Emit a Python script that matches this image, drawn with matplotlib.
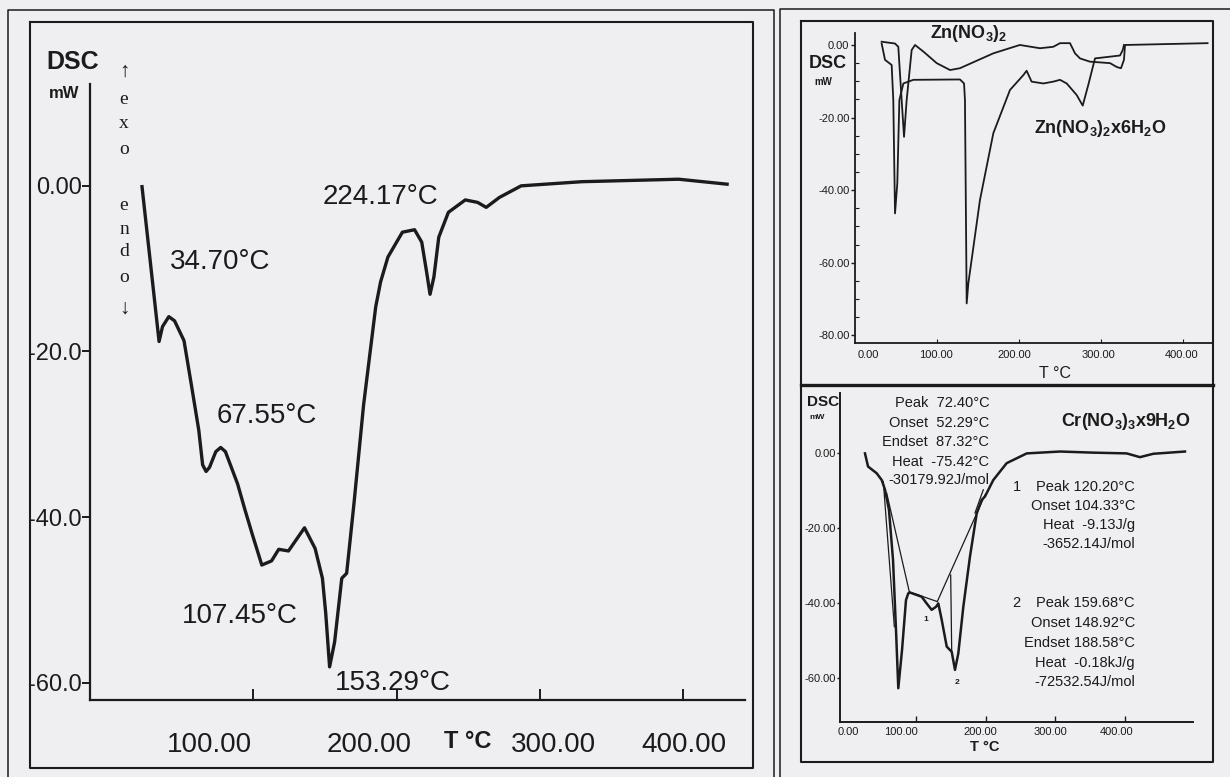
import matplotlib
matplotlib.use("Agg")
import matplotlib.pyplot as plt
from matplotlib.lines import Line2D
from matplotlib.ticker import FixedLocator, MultipleLocator

plt.rcParams['font.family'] = ['Liberation Sans', 'DejaVu Sans']
plt.rcParams['mathtext.default'] = 'regular'

# ---------------- data ----------------
# Left panel: DSC curve (T in degC, DSC in mW)
left_T = [22.3, 28.1, 34.2, 36.6, 41.0, 45.0, 51.6, 56.9, 61.9, 64.6, 67.0, 69.4, 73.8, 77.2,
          80.5, 89.0, 94.1, 99.1, 105.9, 112.7, 117.7, 124.5, 135.7, 143.1, 148.2, 150.5,
          153.2, 156.7, 161.7, 165.1, 170.2, 176.9, 185.4, 188.8, 193.9, 204.0, 212.5, 217.5,
          220.9, 223.3, 226.0, 229.4, 236.1, 247.9, 256.5, 262.5, 271.7, 286.9, 329.2, 396.8, 430.6]
left_V = [-0.1, -9.2, -18.8, -17.0, -15.8, -16.3, -18.7, -24.2, -29.5, -33.7, -34.5, -34.0, -32.1, -31.6,
          -32.1, -36.0, -39.1, -42.0, -45.8, -45.3, -43.9, -44.1, -41.3, -43.8, -47.4, -51.6,
          -58.1, -55.1, -47.4, -46.8, -38.4, -26.5, -14.6, -11.6, -8.6, -5.6, -5.3, -6.8,
          -10.4, -13.1, -11.0, -6.2, -3.2, -1.7, -2.0, -2.6, -1.4, 0.0, 0.5, 0.8, 0.2]
left_peaks = ["34.70°C", "67.55°C", "107.45°C", "153.29°C", "224.17°C"]
left_yticks = [0, -20, -40, -60]
left_yticklabels = ["0.00", "-20.0", "-40.0", "-60.0"]
left_xticks = [100, 200, 300, 400]
left_xticklabels = ["100.00", "200.00", "300.00", "400.00"]

# Top-right panel: Zn(NO3)2 and Zn(NO3)2x6H2O
zn_T = [32.5, 48.8, 52.8, 56.9, 59.8, 63.0, 69.1, 73.2, 83.3, 99.6, 115.9, 128.0, 168.7, 201.0,
        225.6, 241.8, 250.0, 262.2, 268.3, 274.4, 286.6, 311.0, 319.5, 324.4, 328.0, 329.3, 430.0]
zn_V = [0.9, 0.4, -0.5, -15.2, -25.3, -15.2, -1.4, 0.0, -1.8, -5.0, -6.9, -6.4, -2.3, 0.0,
        -0.9, -0.5, 0.5, 0.5, -2.3, -3.7, -4.6, -5.0, -6.1, -6.4, -4.1, 0.0, 0.5]
znh_T = [32.5, 36.6, 44.7, 46.7, 48.8, 51.6, 54.1, 59.0, 71.1, 128.0, 133.0, 134.1, 136.2, 138.2,
         152.4, 168.7, 189.0, 205.3, 209.3, 215.4, 229.7, 241.8, 250.0, 258.2, 270.4, 277.7,
         284.5, 292.7, 323.2, 326.5, 328.0]
znh_V = [0.4, -4.1, -5.5, -15.2, -46.4, -38.1, -15.2, -10.6, -9.6, -9.5, -10.6, -15.2, -71.2, -65.7,
         -42.7, -24.3, -12.4, -8.3, -7.1, -10.1, -10.6, -10.1, -9.6, -10.6, -13.8, -16.7,
         -11.0, -3.7, -2.9, -1.4, 0.0]
tr_yticks = [0, -20, -40, -60, -80]
tr_yticklabels = ["0.00", "-20.00", "-40.00", "-60.00", "-80.00"]
tr_xticklabels = ["0.00", "100.00", "200.00", "300.00", "400.00"]

# Bottom-right panel: Cr(NO3)3x9H2O
cr_T = [25.9, 30.3, 42.8, 50.0, 54.8, 60.5, 66.3, 70.6, 73.9, 79.3, 85.0, 88.3, 90.8, 107.6,
        114.8, 122.0, 128.2, 131.6, 136.5, 143.7, 150.9, 155.6, 160.4, 167.6, 177.2, 186.9,
        194.1, 198.8, 210.8, 230.1, 259.0, 307.0, 354.9, 403.0, 422.2, 441.4, 487.0]
cr_V = [-0.2, -3.7, -5.5, -7.3, -9.9, -15.3, -28.6, -47.3, -62.8, -52.6, -39.3, -37.5, -37.3, -38.4,
        -40.2, -41.9, -41.1, -40.2, -44.6, -51.7, -53.1, -57.9, -53.5, -41.1, -27.7, -16.2,
        -12.6, -11.7, -7.3, -2.8, -0.2, 0.3, 0.0, -0.2, -1.2, -0.3, 0.3]
# construction (baseline / tangent) segments: (T0, T1), (V0, V1)
cr_seg_T = [(52.3, 68.2), (57.2, 89.8), (89.8, 130.1), (130.1, 198.8), (149.4, 150.9), (184.4, 196.4)]
cr_seg_V = [(-7.7, -46.4), (-10.8, -37.1), (-37.1, -39.7), (-39.7, -11.3), (-32.6, -53.1), (-16.1, -9.9)]
br_yticks = [0, -20, -40, -60]
br_yticklabels = ["0.00", "-20.00", "-40.00", "-60.00"]
br_xticks = [100, 200, 300, 400]
br_xticklabels = ["0.00", "100.00", "200.00", "300.00", "400.00"]
cr_info0 = ["Peak  72.40°C", "Onset  52.29°C", "Endset  87.32°C", "Heat  -75.42°C", "-30179.92J/mol"]
cr_info1 = ["Peak 120.20°C", "Onset 104.33°C", "Heat  -9.13J/g", "-3652.14J/mol"]
cr_info2 = ["Peak 159.68°C", "Onset 148.92°C", "Endset 188.58°C", "Heat  -0.18kJ/g", "-72532.54J/mol"]

# ---------------- figure ----------------
W, H = 1230, 777
BG = '#efeff1'
INK = '#1b1b1b'
fig = plt.figure(figsize=(W / 100, H / 100), dpi=100, facecolor=BG)


def ptext(x, y, s, **kw):
    kw.setdefault('color', INK)
    kw.setdefault('ha', 'center')
    kw.setdefault('va', 'center')
    return fig.text(x / W, 1 - y / H, s, **kw)


def pline(xs, ys, lw=1.2, color=INK):
    fig.add_artist(Line2D([x / W for x in xs], [1 - y / H for y in ys],
                          transform=fig.transFigure, lw=lw, color=color,
                          solid_capstyle='projecting'))


def add_ax(x0, y0, x1, y1):
    ax = fig.add_axes([x0 / W, 1 - y1 / H, (x1 - x0) / W, (y1 - y0) / H])
    ax.set_facecolor('none')
    for s in ('top', 'right'):
        ax.spines[s].set_visible(False)
    return ax


# ---- frames ----
pline([8, 8, 774, 774], [777, 10, 10, 777], lw=1.1)
pline([780, 780, 1230], [777, 9, 9], lw=1.1)
pline([30, 753, 753, 30, 30], [22, 22, 768, 768, 22], lw=1.5)
pline([801, 1213, 1213, 801, 801], [21, 21, 762, 762, 21], lw=1.5)
pline([801, 1213], [385, 385], lw=2.4)

# ---- left panel ----
axL = add_ax(90, 84, 745, 700)
axL.set_xlim(-14, 443.1)
axL.set_ylim(-62.1, 12.3)
axL.plot(left_T, left_V, color=INK, lw=2.4, solid_joinstyle='round')
for s in ('left', 'bottom'):
    axL.spines[s].set_linewidth(1.6)
    axL.spines[s].set_color(INK)
axL.set_yticks(left_yticks)
axL.set_yticklabels(left_yticklabels, fontsize=17, color=INK)
axL.tick_params(axis='y', direction='out', length=6, width=1.4, pad=0, colors=INK)
axL.set_xticks(left_xticks)
axL.set_xticklabels([])
axL.tick_params(axis='x', direction='in', length=8, width=1.4, colors=INK)
for lab, x in zip(left_xticklabels, [209, 369, 553, 684]):
    ptext(x, 745, lab, fontsize=20)
for lab, (x, y) in zip(left_peaks, [(220.6, 262.4), (266.6, 415.8), (240, 616), (392.6, 683), (380.5, 197)]):
    ptext(x, y, lab, fontsize=20)
ptext(73, 62, "DSC", fontsize=18, fontweight='bold')
ptext(64, 93, "mW", fontsize=12, fontweight='bold')
ptext(468, 742, "T °C", fontsize=17, fontweight='bold')
serif = ['Liberation Serif', 'DejaVu Serif']
for ch, y in zip(["↑", "e", "x", "o", "e", "n", "d", "o", "↓"], [72, 99, 124, 149, 205, 230, 252, 277, 309]):
    ptext(124, y, ch, fontsize=15 if ch in "↑↓" else 14, family=serif)

# ---- top-right panel ----
axT = add_ax(855, 33, 1213, 343)
axT.set_xlim(0, 436.6)
axT.set_ylim(-82.1, 3.3)
axT.plot(zn_T, zn_V, color=INK, lw=1.3)
axT.plot(znh_T, znh_V, color=INK, lw=1.3)
for s in ('left', 'bottom'):
    axT.spines[s].set_linewidth(1.3)
    axT.spines[s].set_color(INK)
axT.set_yticks(tr_yticks)
axT.set_yticklabels(tr_yticklabels, fontsize=8, color=INK)
axT.yaxis.set_minor_locator(MultipleLocator(5))
axT.tick_params(axis='y', which='major', direction='out', length=3, width=1.0, pad=1, colors=INK)
axT.tick_params(axis='y', which='minor', direction='in', length=3, width=0.8, colors=INK)
axT.set_xticks([100, 200, 300, 400])
axT.set_xticklabels([])
axT.tick_params(axis='x', direction='in', length=3, width=0.8, colors=INK)
for lab, x in zip(tr_xticklabels, [868, 935.7, 1014, 1098, 1181.7]):
    ptext(x, 355, lab, fontsize=8)
ptext(828.3, 63.3, "DSC", fontsize=13, fontweight='bold')
ptext(823.3, 81.7, "mW", fontsize=7, fontweight='bold')
ptext(968.3, 33.3, r"Zn(NO$_3$)$_2$", fontsize=13, fontweight='bold')
ptext(1100, 128.3, r"Zn(NO$_3$)$_2$x6H$_2$O", fontsize=13, fontweight='bold')
ptext(1055, 373.3, "T °C", fontsize=11.5)

# ---- bottom-right panel ----
axB = add_ax(840, 393, 1193, 722)
axB.set_xlim(-10.1, 498.6)
axB.set_ylim(-71.8, 15.9)
for t, v in zip(cr_seg_T, cr_seg_V):
    axB.plot(t, v, color=INK, lw=0.9)
axB.plot(cr_T, cr_V, color=INK, lw=1.8, solid_joinstyle='round')
for s in ('left', 'bottom'):
    axB.spines[s].set_linewidth(1.4)
    axB.spines[s].set_color(INK)
axB.set_yticks(br_yticks)
axB.set_yticklabels(br_yticklabels, fontsize=8, color=INK)
axB.tick_params(axis='y', direction='out', length=2, width=1.0, pad=1, colors=INK)
axB.set_xticks(br_xticks)
axB.set_xticklabels([])
axB.tick_params(axis='x', direction='in', length=4, width=1.0, colors=INK)
for lab, x in zip(br_xticklabels, [848, 900.7, 980.7, 1050, 1116.7]):
    ptext(x, 731.7, lab, fontsize=8)
ptext(823, 401.7, "DSC", fontsize=11, fontweight='bold')
ptext(816.7, 417, "mW", fontsize=6, fontweight='bold')
ptext(985, 746.7, "T °C", fontsize=10.5, fontweight='bold')
ptext(1190, 421.7, r"Cr(NO$_3$)$_3$x9H$_2$O", fontsize=13, fontweight='bold', ha='right')
for lab, y in zip(cr_info0, [403.3, 422.7, 441.7, 461.7, 480]):
    ptext(989.3, y, lab, fontsize=10.5, ha='right')
for lab, y in zip(cr_info1, [486.7, 506, 525, 544.3]):
    ptext(1135, y, lab, fontsize=10.5, ha='right')
for lab, y in zip(cr_info2, [602.7, 622.7, 642.7, 662.7, 681.7]):
    ptext(1135, y, lab, fontsize=10.5, ha='right')
ptext(1016.7, 486.7, "1", fontsize=10.5)
ptext(1016.7, 602.7, "2", fontsize=10.5)
ptext(925.7, 619.3, "1", fontsize=6, fontweight='bold')
ptext(956.7, 682.7, "2", fontsize=6, fontweight='bold')

fig.savefig("out.png", dpi=100, facecolor=BG)
